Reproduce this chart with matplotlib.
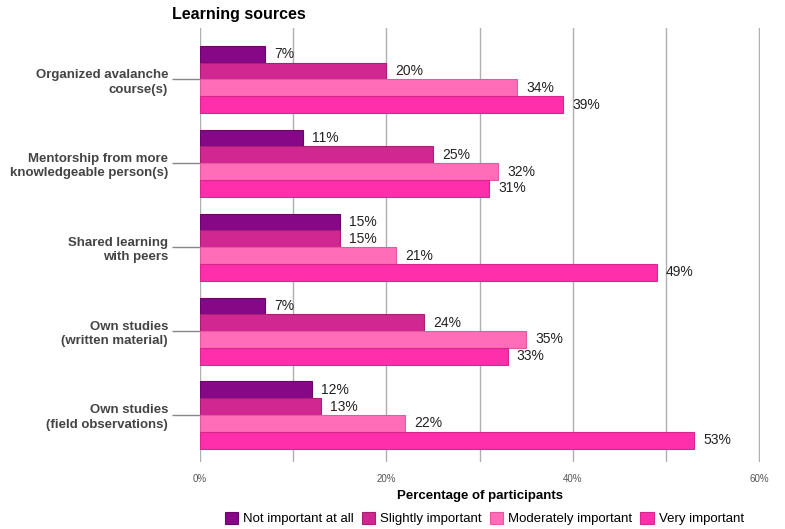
import matplotlib.pyplot as plt
import numpy as np

plt.rcParams['font.family'] = ['Liberation Sans', 'DejaVu Sans']

sources = [
    'Organized avalanche\ncourse(s)',
    'Mentorship from more\nknowledgeable person(s)',
    'Shared learning\nwith peers',
    'Own studies\n(written material)',
    'Own studies\n(field observations)',
]
levels = ['Not important at all', 'Slightly important',
          'Moderately important', 'Very important']

not_important = [7, 11, 15, 7, 12]
slightly = [20, 25, 15, 24, 13]
moderately = [34, 32, 21, 35, 22]
very = [39, 31, 49, 33, 53]

colors = ['#860886', '#d02890', '#ff6cb8', '#ff2eaa']
edges = ['#6a066a', '#a81f74', '#e05a9c', '#d8268f']

fig = plt.figure(figsize=(7.85, 5.29), dpi=100)
ax = fig.add_axes([0.2548, 0.1267, 0.7134, 0.8200])

y = np.arange(len(sources))
h = 0.2
series = [not_important, slightly, moderately, very]
for i, vals in enumerate(series):
    pos = y + (i - 1.5) * h
    bars = ax.barh(pos, vals, height=h, color=colors[i], edgecolor=edges[i],
                   linewidth=0.8, label=levels[i], zorder=3)
    for b, v in zip(bars, vals):
        ax.text(v + 1.0, b.get_y() + b.get_height() / 2, f'{v}%',
                va='center', ha='left', fontsize=10, color='#222222', zorder=4)

ax.set_xlim(0, 60.1)
ax.set_ylim(4.56, -0.61)
ax.set_xticks(np.arange(0, 61, 10))
ax.set_xticklabels(['0%', '', '20%', '', '40%', '', '60%'], fontsize=7, color='#555555')
ax.tick_params(axis='x', length=0, pad=9)
ax.grid(axis='x', color='#b0b0b0', linewidth=1, zorder=0)

ax.set_yticks(y)
ax.set_yticklabels(sources, fontsize=9.5, fontweight='bold', color='#444444', linespacing=1.3)
ax.tick_params(axis='y', length=20, color='#888888', width=1, pad=3)

for s in ax.spines.values():
    s.set_visible(False)

ax.set_xlabel('Percentage of participants', fontsize=9.5, fontweight='bold', labelpad=4)
fig.text(0.219, 0.972, 'Learning sources', fontsize=11.5, fontweight='bold', va='center')

fig.legend(loc='center', bbox_to_anchor=(0.617, 0.02), ncol=4, frameon=False,
           fontsize=9.5, handlelength=1.0, handleheight=1.0, handletextpad=0.4,
           columnspacing=0.6)

fig.savefig('out.png', dpi=100)
